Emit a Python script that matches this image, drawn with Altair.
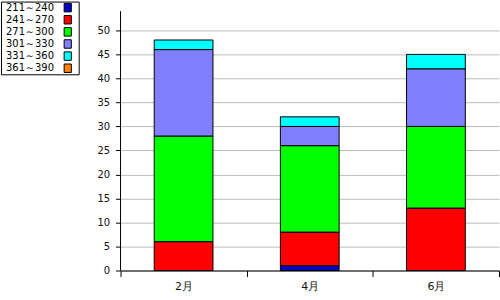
import altair as alt
import pandas as pd

months = ["2月", "4月", "6月"]
ranges = ["211～240", "241～270", "271～300", "301～330", "331～360", "361～390"]
colors = ["#0000cc", "#ff0000", "#00ff00", "#8080ff", "#00ffff", "#ff8000"]
# values per range, in month order
v_211_240 = [0, 1, 0]
v_241_270 = [6, 7, 13]
v_271_300 = [22, 18, 17]
v_301_330 = [18, 4, 12]
v_331_360 = [2, 2, 3]
v_361_390 = [0, 0, 0]
y_ticks = [0, 5, 10, 15, 20, 25, 30, 35, 40, 45, 50]
y_axis_top = 54

series = [v_211_240, v_241_270, v_271_300, v_301_330, v_331_360, v_361_390]
rows = []
for i, (r, vals) in enumerate(zip(ranges, series)):
    for m, v in zip(months, vals):
        rows.append({"month": m, "range": r, "value": v, "idx": i})
df = pd.DataFrame(rows)
leg_df = pd.DataFrame({"range": ranges, "color": colors})

FONT = "DejaVu Sans"

y_scale = alt.Scale(domain=[0, 56], nice=False)
y_axis = alt.Axis(values=y_ticks, domain=False, tickColor="black",
                  tickSize=5, labelPadding=6, labelFont=FONT,
                  labelFontSize=10, labelColor="#111", labelOverlap=False,
                  gridColor="#bbbbbb", gridWidth=1)

bars = alt.Chart(df).transform_filter("datum.value > 0").mark_bar(
    size=59, stroke="black", strokeWidth=1).encode(
    x=alt.X("month:N", sort=months, title=None,
            scale=alt.Scale(paddingInner=0, paddingOuter=0),
            axis=alt.Axis(labelAngle=0, tickBand="extent", domainColor="black",
                          tickColor="black", tickSize=6, labelPadding=4,
                          labelFont=FONT, labelFontSize=11, labelColor="#111",
                          grid=False)),
    y=alt.Y("value:Q", stack="zero", title=None, scale=y_scale, axis=y_axis),
    color=alt.Color("range:N", scale=alt.Scale(domain=ranges, range=colors), legend=None),
    order=alt.Order("idx:Q"),
)

y_line = alt.Chart(pd.DataFrame({"zero": [0], "top": [y_axis_top]})).mark_rule(
    color="black", strokeWidth=1).encode(
    x=alt.value(0),
    y=alt.Y("zero:Q", scale=y_scale, axis=y_axis, title=None),
    y2="top:Q")

main = alt.layer(bars, y_line).properties(
    width=380, height=270, view=alt.ViewBackground(stroke=None))

leg_y = alt.Y("range:N", sort=ranges, axis=None,
              scale=alt.Scale(paddingOuter=0.9))
leg_text = alt.Chart(leg_df).mark_text(align="left", baseline="middle",
                                       font=FONT, fontSize=10, color="black").encode(
    x=alt.value(5), y=leg_y, text="range:N")
leg_sym = alt.Chart(leg_df).mark_point(shape="M-0.85,-1V1H0.85V-1Z", size=72,
                                       filled=True, stroke="black", strokeWidth=1,
                                       opacity=1).encode(
    x=alt.value(67), y=leg_y,
    color=alt.Color("range:N", scale=alt.Scale(domain=ranges, range=colors), legend=None))
legend = alt.layer(leg_text, leg_sym).properties(
    width=78, height=73, view=alt.ViewBackground(stroke="black", strokeWidth=1))

chart = alt.hconcat(legend, main, spacing=17).properties(
    padding={"left": 0, "top": 0, "right": 0, "bottom": 0},
    background="white"
).resolve_scale(color="independent")

chart.save("out.html", embed_options={"renderer": "svg", "actions": False})
